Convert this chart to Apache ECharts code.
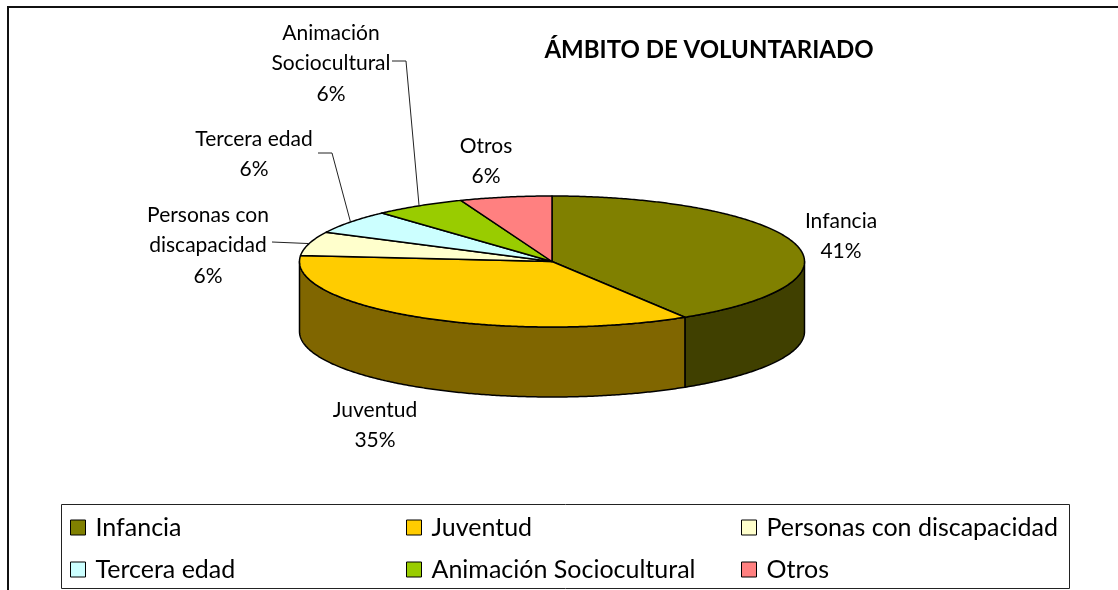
<!DOCTYPE html>
<html>
<head>
<meta charset="utf-8">
<title>Ámbito de voluntariado</title>
<script src="https://cdn.jsdelivr.net/npm/echarts@6/dist/echarts.min.js"></script>
<style>
html,body{margin:0;padding:0;background:#fff}
#main{width:1118px;height:590px}
</style>
</head>
<body>
<div id="main"></div>
<script>
// datos
var categories = ['Infancia', 'Juventud', 'Personas con discapacidad', 'Tercera edad', 'Animación Sociocultural', 'Otros'];
var values = [7, 6, 1, 1, 1, 1];
var topColors = ['#808000', '#FFCC00', '#FFFFCC', '#CCFFFF', '#99CC00', '#FF8080'];
var sideColors = ['#404000', '#806600', '#808066', '#668080', '#4D6600', '#804040'];
var labelLines = [['Infancia'], ['Juventud'], ['Personas con', 'discapacidad'], ['Tercera edad'], ['Animación', 'Sociocultural'], ['Otros']];

// geometria del pastel
var cx = 552, cy = 261.5, rx = 252.5, ry = 65.5, depth = 70;
var fontName = 'Lato';
var labelSize = 21;
var labelLineH = 30.6;
// centro x, y de la primera linea
var labelAt = [[841, 221], [375, 410], [208, 215], [254, 139], [331, 33], [486, 146]];
// codo de las lineas guia
var leaderAt = [null, null, [[272, 242]], [[318, 153], [332, 153]], [[392, 61], [406, 61]], null];

var total = values.reduce(function (a, b) { return a + b; }, 0);

function startDeg(i) {
  var s = 0;
  for (var k = 0; k < i; k++) s += values[k];
  return s / total * 360;
}
function rimPoint(deg, dy) {
  var r = deg * Math.PI / 180;
  return [cx + rx * Math.sin(r), cy - ry * Math.cos(r) + (dy || 0)];
}
function arcPoints(a, b, dy) {
  var pts = [], n = Math.max(2, Math.ceil(Math.abs(b - a) * 2));
  for (var k = 0; k <= n; k++) pts.push(rimPoint(a + (b - a) * k / n, dy));
  return pts;
}

function renderSlice(i) {
  return function (params, api) {
    var a = startDeg(i), b = a + api.value(0) / total * 360;
    var kids = [];
    var line = { stroke: '#000', lineWidth: 1.5, lineJoin: 'round' };

    // pared lateral, solo la parte visible de frente
    var sa = Math.max(a, 90), sb = Math.min(b, 270);
    if (sb > sa) {
      kids.push({
        type: 'polygon',
        shape: { points: arcPoints(sa, sb, 0).concat(arcPoints(sb, sa, depth)) },
        style: Object.assign({ fill: sideColors[i] }, line)
      });
    }
    // cara superior
    kids.push({
      type: 'polygon',
      shape: { points: [[cx, cy]].concat(arcPoints(a, b, 0)) },
      style: Object.assign({ fill: topColors[i] }, line)
    });
    // linea guia
    if (leaderAt[i]) {
      kids.push({
        type: 'polyline',
        shape: { points: leaderAt[i].concat([rimPoint((a + b) / 2, 0)]) },
        style: { stroke: '#222', lineWidth: 1, fill: null }
      });
    }
    // etiqueta
    var rows = labelLines[i].concat([Math.round(api.value(0) / total * 100) + '%']);
    rows.forEach(function (t, r) {
      kids.push({
        type: 'text',
        style: {
          x: labelAt[i][0], y: labelAt[i][1] + r * labelLineH,
          text: t, align: 'center', verticalAlign: 'middle',
          font: labelSize + 'px ' + fontName, fill: '#000'
        }
      });
    });
    return { type: 'group', children: kids };
  };
}

var series = categories.map(function (name, i) {
  return {
    type: 'custom',
    name: name,
    coordinateSystem: 'none',
    silent: true,
    animation: false,
    itemStyle: { color: topColors[i] },
    renderItem: renderSlice(i),
    data: [[values[i]]]
  };
});

function legendColumn(i, left) {
  return {
    data: [categories[i], categories[i + 3]],
    orient: 'vertical',
    left: left,
    top: 515,
    itemWidth: 15,
    itemHeight: 15,
    itemGap: 17,
    padding: 0,
    icon: 'rect',
    selectedMode: false,
    itemStyle: { borderColor: '#000', borderWidth: 1 },
    textStyle: { fontFamily: fontName, fontSize: 25, color: '#000', lineHeight: 25, padding: [0, 0, 0, 5] }
  };
}

var chart = echarts.init(document.getElementById('main'), null, { renderer: 'canvas' });
chart.setOption({
  animation: false,
  backgroundColor: '#fff',
  title: {
    text: 'ÁMBITO DE VOLUNTARIADO',
    left: 709,
    top: 50,
    textAlign: 'center',
    textVerticalAlign: 'middle',
    padding: 0,
    textStyle: { fontFamily: fontName, fontWeight: 'bold', fontSize: 24, color: '#000' }
  },
  legend: [legendColumn(0, 70), legendColumn(1, 406), legendColumn(2, 741)],
  graphic: [
    { type: 'polyline', silent: true, shape: { points: [[8, 590], [8, 7], [1118, 7]] }, style: { stroke: '#111', lineWidth: 2, fill: null } },
    { type: 'rect', silent: true, shape: { x: 61.5, y: 504.5, width: 1008, height: 84 }, style: { stroke: '#222', lineWidth: 1, fill: null } }
  ],
  series: series
});
</script>
</body>
</html>
